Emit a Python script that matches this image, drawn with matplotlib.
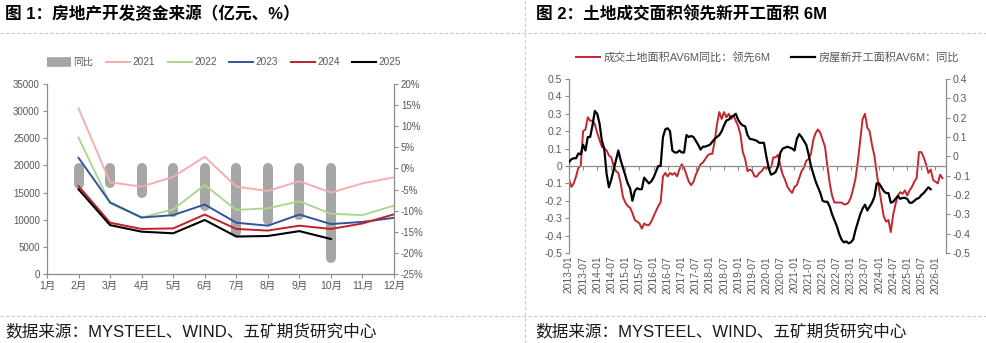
import matplotlib
matplotlib.use('Agg')
import matplotlib.pyplot as plt
from matplotlib.lines import Line2D
import numpy as np

plt.rcParams['font.family'] = ['Liberation Sans', 'Noto Sans CJK SC', 'DejaVu Sans']
plt.rcParams['axes.unicode_minus'] = True

# ---------------- data: figure 1 ----------------
months = [1, 2, 3, 4, 5, 6, 7, 8, 9, 10, 11, 12]
month_labels = ['1月', '2月', '3月', '4月', '5月', '6月', '7月', '8月', '9月', '10月', '11月', '12月']
nan = np.nan
src_2021 = [nan, 30500, 16900, 16100, 17900, 21600, 16100, 15300, 17100, 15000, 16700, 17800]
src_2022 = [nan, 25100, 13000, 10400, 11900, 16400, 11800, 12100, 13400, 11100, 10850, 12600]
src_2023 = [nan, 21400, 13200, 10400, 10850, 12800, 9450, 8900, 10950, 9200, 9600, 10350]
src_2024 = [nan, 16200, 9450, 8300, 8400, 10950, 8300, 8000, 8900, 8300, 9300, 11000]
src_2025 = [nan, 15600, 9000, 7800, 7500, 9950, 6900, 7000, 7900, 6450, nan, nan]
yoy_months = [2, 3, 4, 5, 6, 7, 8, 9, 10]
yoy_2025 = [-3.7, -3.5, -5.7, -10.4, -9.0, -15.1, -12.2, -11.0, -21.3]

# ---------------- data: figure 2 (monthly from 2013-01) ----------------
land_yoy_lead6 = [
    -0.075, -0.12, -0.10, -0.06, -0.01, 0.00, 0.20, 0.21, 0.28, 0.26, 0.26, 0.24,
    0.19, 0.15, 0.11, 0.10, 0.09, 0.06, 0.05, 0.00, -0.03, -0.04, -0.10, -0.18,
    -0.21, -0.23, -0.24, -0.27, -0.31, -0.32, -0.33, -0.36, -0.33, -0.34, -0.34, -0.32,
    -0.29, -0.26, -0.23, -0.21, -0.06, -0.04, -0.06, -0.04, -0.05, -0.04, -0.06, -0.02,
    0.01, -0.01, -0.05, -0.09, -0.11, -0.09, -0.05, -0.02, 0.01, 0.02, 0.04, 0.06,
    0.07, 0.07, 0.14, 0.24, 0.31, 0.27, 0.31, 0.28, 0.30, 0.27, 0.29, 0.26,
    0.23, 0.18, 0.08, 0.04, -0.03, -0.02, -0.03, -0.06, -0.06, -0.04, -0.03, -0.01,
    -0.01, -0.01, -0.01, 0.05, 0.05, 0.065, 0.00, -0.05, -0.08, -0.12, -0.14, -0.155,
    -0.12, -0.11, -0.07, -0.03, -0.01, 0.03, 0.04, 0.07, 0.15, 0.19, 0.21, 0.19,
    0.15, 0.11, 0.00, -0.10, -0.17, -0.21, -0.21, -0.21, -0.21, -0.22, -0.22, -0.21,
    -0.18, -0.13, -0.07, 0.03, 0.15, 0.27, 0.30, 0.22, 0.20, 0.12, 0.06, -0.04,
    -0.13, -0.21, -0.29, -0.32, -0.31, -0.38, -0.28, -0.22, -0.17, -0.15, -0.16, -0.14,
    -0.17, -0.14, -0.12, -0.09, -0.07, 0.08, 0.08, 0.05, 0.01, -0.04, -0.02, -0.08,
    -0.09, -0.10, -0.05, -0.07,
]
start_yoy = [
    -0.03, -0.015, -0.01, -0.01, 0.015, 0.01, 0.06, 0.03, 0.10, 0.10, 0.16, 0.235,
    0.22, 0.17, 0.08, 0.04, -0.09, -0.16, -0.12, -0.07, -0.02, 0.03, -0.02, -0.06,
    -0.10, -0.14, -0.165, -0.23, -0.18, -0.165, -0.17, -0.17, -0.11, -0.125, -0.14, -0.13,
    -0.11, -0.08, -0.05, -0.05, 0.10, 0.14, 0.145, 0.13, 0.03, 0.02, 0.02, 0.03,
    0.02, 0.02, 0.11, 0.10, 0.105, 0.10, 0.08, 0.06, 0.035, 0.05, 0.05, 0.055,
    0.06, 0.075, 0.09, 0.10, 0.11, 0.13, 0.16, 0.185, 0.19, 0.205, 0.21, 0.22,
    0.19, 0.17, 0.16, 0.155, 0.11, 0.09, 0.088, 0.085, 0.08, 0.07, 0.07, 0.07,
    0.00, -0.06, -0.095, -0.09, -0.08, -0.05, 0.02, 0.04, 0.045, 0.05, 0.045, 0.04,
    0.03, 0.09, 0.115, 0.10, 0.08, 0.06, 0.01, -0.05, -0.09, -0.13, -0.16, -0.19,
    -0.23, -0.235, -0.235, -0.26, -0.30, -0.33, -0.36, -0.40, -0.43, -0.445, -0.44, -0.45,
    -0.445, -0.43, -0.38, -0.34, -0.30, -0.27, -0.25, -0.28, -0.26, -0.24, -0.21, -0.14,
    -0.14, -0.16, -0.18, -0.19, -0.19, -0.24, -0.235, -0.22, -0.205, -0.22, -0.215, -0.215,
    -0.22, -0.24, -0.24, -0.23, -0.22, -0.215, -0.20, -0.19, -0.175, -0.16, -0.17,
]
date_ticks = ['2013-01', '2013-07', '2014-01', '2014-07', '2015-01', '2015-07', '2016-01',
              '2016-07', '2017-01', '2017-07', '2018-01', '2018-07', '2019-01', '2019-07',
              '2020-01', '2020-07', '2021-01', '2021-07', '2022-01', '2022-07', '2023-01',
              '2023-07', '2024-01', '2024-07', '2025-01', '2025-07', '2026-01']

TXT = '#595959'
AX = '#8c8c8c'
W, H = 986, 343


def fx(px):
    return px / W


def fy(py):
    return 1 - py / H


fig = plt.figure(figsize=(9.86, 3.43), dpi=100)

# separators and headers
sep = dict(transform=fig.transFigure, color='#c8c8c8', lw=0.8, ls=(0, (3, 2)))
fig.add_artist(Line2D([0, 1], [fy(33), fy(33)], **sep))
fig.add_artist(Line2D([0, 1], [fy(316), fy(316)], **sep))
fig.add_artist(Line2D([fx(525), fx(525)], [0, 1], **sep))

fig.text(fx(5), fy(14), '图 1：房地产开发资金来源（亿元、%）', fontsize=12, fontweight='bold',
         va='center', ha='left')
fig.text(fx(536), fy(14), '图 2：土地成交面积领先新开工面积 6M', fontsize=12, fontweight='bold',
         va='center', ha='left')
fig.text(fx(5), fy(331), '数据来源：MYSTEEL、WIND、五矿期货研究中心', fontsize=12,
         va='center', ha='left', color='#1a1a1a')
fig.text(fx(535), fy(331), '数据来源：MYSTEEL、WIND、五矿期货研究中心', fontsize=12,
         va='center', ha='left', color='#1a1a1a')

# ---------------- figure 1 ----------------
ax1 = fig.add_axes([fx(47), fy(274), fx(394) - fx(47), fy(84) - fy(274)])
ax1b = ax1.twinx()
ax1.set_zorder(ax1b.get_zorder() + 1)
ax1.patch.set_visible(False)

for m, v in zip(yoy_months, yoy_2025):
    ax1b.plot([m, m], [0, v], color='#a6a6a6', lw=7.2, solid_capstyle='round')

series = [('2021', src_2021, '#f2aeb0', 1.4), ('2022', src_2022, '#aed68f', 1.4),
          ('2023', src_2023, '#2f559a', 1.4), ('2024', src_2024, '#c0202a', 1.4),
          ('2025', src_2025, '#000000', 1.5)]
for name, vals, col, lw in series:
    ax1.plot(months, vals, color=col, lw=lw, label=name)

ax1.set_xlim(1, 12)
ax1.set_ylim(0, 35000)
ax1.set_yticks(range(0, 35001, 5000))
ax1.set_xticks(months)
ax1.set_xticklabels(month_labels)
ax1b.set_ylim(-25, 20)
ax1b.set_yticks(range(-25, 21, 5))
ax1b.set_yticklabels([f'{v}%' for v in range(-25, 21, 5)])

for a in (ax1, ax1b):
    for s in a.spines.values():
        s.set_color(AX)
        s.set_linewidth(0.9)
    a.spines['top'].set_visible(False)
    a.tick_params(colors=AX, labelcolor=TXT, labelsize=7, length=3, width=0.8, pad=2)
ax1.spines['right'].set_visible(False)
ax1b.spines['left'].set_visible(False)
ax1b.spines['bottom'].set_visible(False)
ax1.tick_params(axis='x', labelsize=7.5)

handles = [Line2D([], [], color='#a6a6a6', lw=7, solid_capstyle='butt')]
handles += [Line2D([], [], color=c, lw=lw) for _, _, c, lw in series]
labels = ['同比'] + [s[0] for s in series]
fig.legend(handles, labels, loc='center left', bbox_to_anchor=(fx(47), fy(62)), ncol=6,
           frameon=False, fontsize=7.2, handlelength=2.4, handletextpad=0.25,
           columnspacing=1.25, labelcolor=TXT, borderaxespad=0, borderpad=0)

# ---------------- figure 2 ----------------
ax2 = fig.add_axes([fx(569), fy(253), fx(946) - fx(569), fy(79) - fy(253)])
ax2b = ax2.twinx()
x_red = np.arange(len(land_yoy_lead6))
x_blk = np.arange(len(start_yoy))
l1, = ax2.plot(x_red, land_yoy_lead6, color='#c1272d', lw=1.4)
l2, = ax2b.plot(x_blk, start_yoy, color='#000000', lw=1.6)

ax2.set_xlim(0, 160.5)
ax2.set_ylim(-0.5, 0.5)
ax2.set_yticks(np.round(np.arange(-0.5, 0.51, 0.1), 1))
ax2.set_yticklabels(['0' if abs(v) < 1e-9 else f'{v:.1f}' for v in np.arange(-0.5, 0.51, 0.1)])
ax2b.set_ylim(-0.5, 0.4)
ax2b.set_yticks(np.round(np.arange(-0.5, 0.41, 0.1), 1))
ax2b.set_yticklabels(['0' if abs(v) < 1e-9 else f'{v:.1f}' for v in np.arange(-0.5, 0.41, 0.1)])

tick_pos = np.arange(len(date_ticks)) * 6
ax2.spines['bottom'].set_position(('data', 0))
ax2.set_xticks(tick_pos)
ax2.tick_params(axis='x', labelbottom=False, direction='out', length=3, colors=AX, width=0.8)
sec = ax2.secondary_xaxis('bottom')
sec.set_xticks(tick_pos)
sec.set_xticklabels(date_ticks, rotation=90)
sec.tick_params(length=0, labelsize=7.4, labelcolor=TXT, pad=2)
sec.spines['bottom'].set_visible(False)

for a in (ax2, ax2b):
    for s in a.spines.values():
        s.set_color(AX)
        s.set_linewidth(0.9)
    a.spines['top'].set_visible(False)
    a.tick_params(axis='y', colors=AX, labelcolor=TXT, labelsize=7.5, length=3, width=0.8, pad=2)
ax2.spines['right'].set_visible(False)
ax2b.spines['left'].set_visible(False)
ax2b.spines['bottom'].set_visible(False)

fig.legend([l1, l2], ['成交土地面积AV6M同比：领先6M', '房屋新开工面积AV6M：同比'],
           loc='center left', bbox_to_anchor=(fx(576), fy(57)), ncol=2, frameon=False,
           fontsize=8, handlelength=2.2, handletextpad=0.3, columnspacing=1.8,
           labelcolor=TXT, borderaxespad=0, borderpad=0)

fig.savefig('out.png', dpi=100)
